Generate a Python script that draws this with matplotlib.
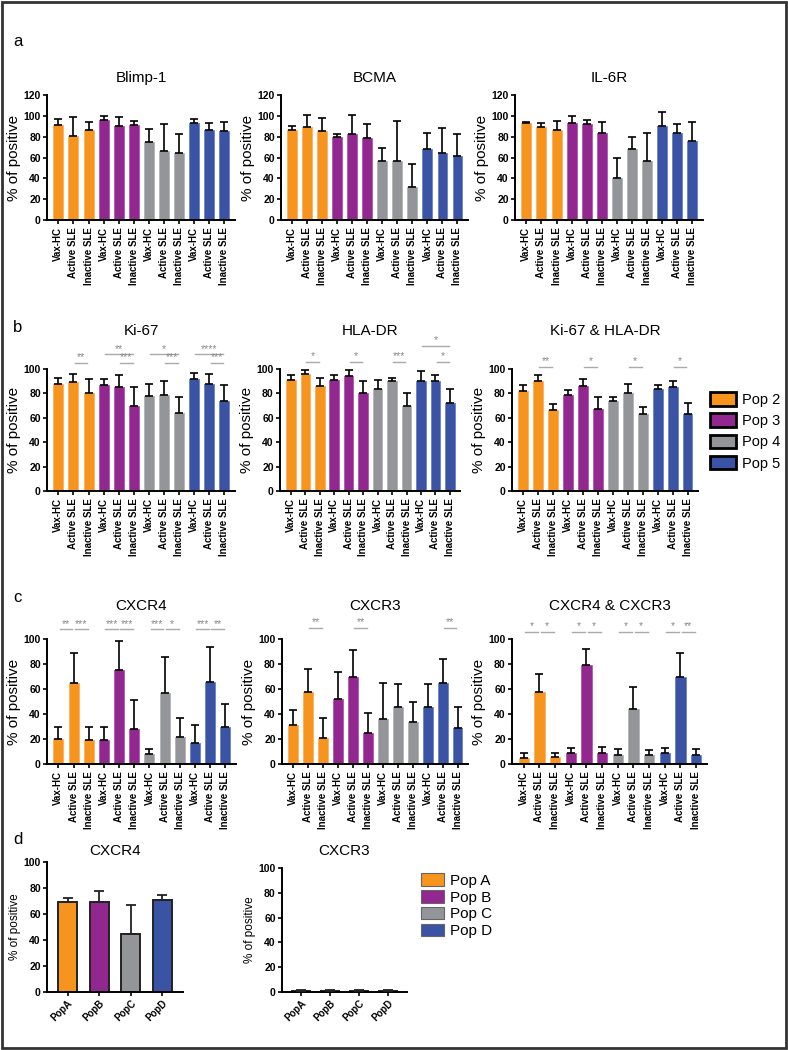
import numpy as np
import matplotlib
matplotlib.use("Agg")
import matplotlib.pyplot as plt
from matplotlib.patches import Patch, Rectangle

plt.rcParams['font.family'] = ['Liberation Sans', 'DejaVu Sans']

# colours of the four populations
pop_colors = ['#F7941D', '#92278F', '#939598', '#3A53A4']
edge_colors = ['#FBB468', '#B262AF', '#B5B6B8', '#7387C4']

groups = ['Vax-HC', 'Active SLE', 'Inactive SLE']
legend_b = ['Pop 2', 'Pop 3', 'Pop 4', 'Pop 5']
legend_d = ['Pop A', 'Pop B', 'Pop C', 'Pop D']
pops_d = ['PopA', 'PopB', 'PopC', 'PopD']

# row a
blimp_mean = [91, 81, 86, 96, 90, 91, 75, 66, 64, 93, 86, 85]
blimp_sd = [6, 18, 8, 4, 9, 4, 12, 26, 19, 4, 7, 9]
bcma_mean = [86, 89, 85, 80, 83, 79, 57, 57, 32, 68, 64, 61]
bcma_sd = [4, 12, 13, 3, 18, 13, 12, 38, 22, 16, 24, 22]
il6r_mean = [93, 89, 86, 93, 92, 84, 40, 68, 57, 90, 84, 76]
il6r_sd = [1.5, 4, 9, 7, 4, 10, 20, 12, 27, 14, 8, 18]

# row b
ki67_mean = [88, 89, 80, 87, 85, 70, 78, 79, 64, 92, 88, 74]
ki67_sd = [5, 7, 12, 5, 10, 15, 10, 11, 13, 5, 8, 13]
hla_mean = [91, 96, 86, 91, 94, 80, 84, 90, 70, 90, 90, 72]
hla_sd = [4, 3, 7, 4, 5, 10, 7, 3, 10, 8, 5, 12]
kihla_mean = [82, 90, 66, 79, 86, 67, 74, 80, 63, 84, 85, 63]
kihla_sd = [5, 5, 5, 4, 6, 10, 3, 8, 6, 3, 5, 9]

# row c
cxcr4_mean = [20, 65, 19, 19, 75, 28, 8, 57, 22, 17, 66, 30]
cxcr4_sd = [10, 24, 11, 11, 23, 23, 4, 29, 15, 14, 28, 18]
cxcr3_mean = [31, 58, 21, 52, 70, 25, 36, 46, 34, 46, 65, 29]
cxcr3_sd = [12, 18, 16, 22, 21, 16, 29, 18, 16, 18, 19, 17]
both_mean = [5, 58, 6, 9, 79, 9, 7, 44, 7, 9, 70, 7]
both_sd = [4, 14, 3, 4, 13, 5, 5, 18, 4, 4, 19, 5]

# row d
d_cxcr4_mean = [69, 69, 45, 71]
d_cxcr4_sd = [3, 9, 22, 4]
d_cxcr3_mean = [1, 1, 0.8, 1]
d_cxcr3_sd = [1, 1, 0.8, 1]

# significance marks: (bar i, bar j, height, label)
ki67_sig = [(1, 2, 105, '**'), (3, 5, 112, '**'), (4, 5, 105, '***'),
            (6, 8, 112, '*'), (7, 8, 105, '***'), (9, 11, 112, '****'), (10, 11, 105, '***')]
hla_sig = [(1, 2, 106, '*'), (4, 5, 106, '*'), (7, 8, 106, '***'),
           (9, 11, 119, '*'), (10, 11, 106, '*')]
kihla_sig = [(1, 2, 102, '**'), (4, 5, 102, '*'), (7, 8, 102, '*'), (10, 11, 102, '*')]
cxcr4_sig = [(0, 1, 108, '**'), (1, 2, 108, '***'), (3, 4, 108, '***'), (4, 5, 108, '***'),
             (6, 7, 108, '***'), (7, 8, 108, '*'), (9, 10, 108, '***'), (10, 11, 108, '**')]
cxcr3_sig = [(1, 2, 109, '**'), (4, 5, 109, '**'), (10, 11, 109, '**')]
both_sig = [(0, 1, 106, '*'), (1, 2, 106, '*'), (3, 4, 106, '*'), (4, 5, 106, '*'),
            (6, 7, 106, '*'), (7, 8, 106, '*'), (9, 10, 106, '*'), (10, 11, 106, '**')]

W, H = 788, 1050
fig = plt.figure(figsize=(W / 100, H / 100), dpi=100)


def px_axes(left, right, top, bottom):
    return fig.add_axes([left / W, 1 - bottom / H, (right - left) / W, (bottom - top) / H])


def style(ax, ymax, ylfs=11, tfs=7.5):
    for s in ['top', 'right']:
        ax.spines[s].set_visible(False)
    for s in ['left', 'bottom']:
        ax.spines[s].set_linewidth(1.4)
    ax.tick_params(width=1.2, length=3, labelsize=tfs, pad=1.5)
    ax.set_ylim(0, ymax)
    ax.set_yticks(np.arange(0, ymax + 1, 20))
    for lab in ax.get_yticklabels():
        lab.set_fontweight('bold')
    ax.set_ylabel('% of positive', fontsize=ylfs, labelpad=2)


def grouped_panel(ax, title, means, sds, ymax, title_y, sig=()):
    x = np.arange(12)
    cols = [pop_colors[i // 3] for i in range(12)]
    ecols = [edge_colors[i // 3] for i in range(12)]
    ax.bar(x, means, width=0.66, color=cols, edgecolor=ecols, linewidth=0.7, zorder=2)
    ax.errorbar(x, means, yerr=[np.zeros(12), sds], fmt='none', ecolor='black',
                elinewidth=1.2, capsize=2.8, capthick=1.2, zorder=3)
    ax.set_xlim(-0.75, 11.7)
    style(ax, ymax)
    ax.set_xticks(x)
    ax.set_xticklabels(groups * 4, rotation=90, fontsize=7, fontweight='bold')
    ax.tick_params(axis='x', length=3, pad=2)
    ax.set_title(title, fontsize=11, y=title_y)
    for i, j, h, lab in sig:
        ax.plot([i + 0.08, j - 0.08], [h, h], color='#AAAAAA', lw=1.0, clip_on=False)
        ax.text((i + j) / 2, h + ymax * 0.003, lab, ha='center', va='bottom',
                fontsize=7.5, color='#888888', clip_on=False)


# row a
ax = px_axes(47, 235, 95, 220)
grouped_panel(ax, 'Blimp-1', blimp_mean, blimp_sd, 120, 1.035)
ax = px_axes(281, 468, 95, 220)
grouped_panel(ax, 'BCMA', bcma_mean, bcma_sd, 120, 1.035)
ax = px_axes(515, 703, 95, 220)
grouped_panel(ax, 'IL-6R', il6r_mean, il6r_sd, 120, 1.035)

# row b
ax = px_axes(47, 235, 369, 491)
grouped_panel(ax, 'Ki-67', ki67_mean, ki67_sd, 100, 1.21, ki67_sig)
ax = px_axes(280, 460, 369, 491)
grouped_panel(ax, 'HLA-DR', hla_mean, hla_sd, 100, 1.21, hla_sig)
ax = px_axes(512, 698, 369, 491)
grouped_panel(ax, 'Ki-67 & HLA-DR', kihla_mean, kihla_sd, 100, 1.21, kihla_sig)

handles = [Patch(facecolor=c, edgecolor='black', linewidth=2) for c in pop_colors]
fig.legend(handles, legend_b, loc='upper left', bbox_to_anchor=(710 / W, 1 - 392 / H),
           frameon=False, fontsize=10.5, handlelength=1.8, handleheight=1.05,
           labelspacing=0.45, handletextpad=0.4, borderpad=0, borderaxespad=0)

# row c
ax = px_axes(47, 236, 639, 764)
grouped_panel(ax, 'CXCR4', cxcr4_mean, cxcr4_sd, 100, 1.165, cxcr4_sig)
ax = px_axes(282, 468, 639, 764)
grouped_panel(ax, 'CXCR3', cxcr3_mean, cxcr3_sd, 100, 1.165, cxcr3_sig)
ax = px_axes(512, 707, 639, 764)
grouped_panel(ax, 'CXCR4 & CXCR3', both_mean, both_sd, 100, 1.165, both_sig)


# row d
def simple_panel(ax, title, means, sds, title_y):
    x = np.arange(4)
    ax.bar(x, means, width=0.6, color=pop_colors, edgecolor='#222222', linewidth=1.4, zorder=2)
    ax.errorbar(x, means, yerr=[np.zeros(4), sds], fmt='none', ecolor='#222222',
                elinewidth=1.3, capsize=3.5, capthick=1.3, zorder=3)
    ax.set_xlim(-0.65, 3.65)
    style(ax, 100, ylfs=8.5)
    ax.set_xticks(x)
    ax.set_xticklabels(pops_d, rotation=45, ha='right', rotation_mode='anchor',
                       fontsize=7, fontweight='bold')
    ax.set_title(title, fontsize=11, y=title_y)


ax = px_axes(47, 183, 862, 992)
simple_panel(ax, 'CXCR4', d_cxcr4_mean, d_cxcr4_sd, 0.99)
ax = px_axes(282, 407, 868, 992)
simple_panel(ax, 'CXCR3', d_cxcr3_mean, d_cxcr3_sd, 1.04)

handles = [Patch(facecolor=c, edgecolor='#666666', linewidth=0.8) for c in pop_colors]
fig.legend(handles, legend_d, loc='upper left', bbox_to_anchor=(421 / W, 1 - 873 / H),
           frameon=False, fontsize=11, handlelength=1.5, handleheight=0.9,
           labelspacing=0.15, handletextpad=0.4, borderpad=0, borderaxespad=0)

# panel letters
for lab, y in [('a', 42), ('b', 327), ('c', 597), ('d', 840)]:
    fig.text(13 / W, 1 - y / H, lab, fontsize=12, va='center')

# outer frame
fig.patches.append(Rectangle((0.002, 0.002), 0.996, 0.996, transform=fig.transFigure,
                             fill=False, edgecolor='#333333', linewidth=2))

fig.savefig('out.png', dpi=100)
